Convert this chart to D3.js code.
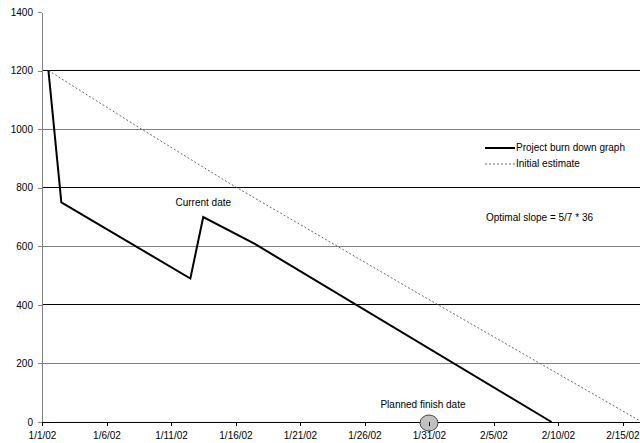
<!DOCTYPE html>
<html>
<head>
<meta charset="utf-8">
<script src="https://cdn.jsdelivr.net/npm/d3@7/dist/d3.min.js"></script>
<style>
  html, body { margin: 0; padding: 0; background: #fff; }
  svg { display: block; font-family: "Liberation Sans", Arial, sans-serif; }
</style>
</head>
<body>
<svg id="chart" width="640" height="443"></svg>
<script>
// ---- data ----
const burnDates = ["2002-01-01", "2002-01-02", "2002-01-12", "2002-01-13", "2002-01-17", "2002-02-09"];
const burnValues = [1200, 750, 490, 700, 608, 0];
const estimateDates = ["2002-01-01", "2002-01-08", "2002-01-15", "2002-01-29", "2002-02-16"];
const estimateValues = [1200, 1006, 816, 456, 0];
const xTickDates = ["2002-01-01", "2002-01-06", "2002-01-11", "2002-01-16", "2002-01-21", "2002-01-26", "2002-01-31", "2002-02-05", "2002-02-10", "2002-02-15"];
const xTickLabels = ["1/1/02", "1/6/02", "1/11/02", "1/16/02", "1/21/02", "1/26/02", "1/31/02", "2/5/02", "2/10/02", "2/15/02"];
const yTicks = [0, 200, 400, 600, 800, 1000, 1200, 1400];
const seriesNames = ["Project burn down graph", "Initial estimate"];
const currentDate = "2002-01-13";
const currentDateValue = 700;
const plannedFinishDate = "2002-01-31";
const slopeNote = "Optimal slope = 5/7 * 36";

(function () {
// ---- layout ----
const svg = d3.select("#chart");
const mLeft = 42, mRight = 640, mTop = 12, mBottom = 422;
const dayW = 12.9;
const parse = d3.utcParse("%Y-%m-%d");
const x = d3.scaleUtc()
  .domain([parse("2002-01-01"), parse("2002-02-15")])
  .range([mLeft, mLeft + 45 * dayW]);
const y = d3.scaleLinear().domain([0, 1400]).range([mBottom, mTop]);
const mid = d => x(d3.utcHour.offset(parse(d), 12));

// gridlines
const gridColor = v => (v / 200) % 2 === 0 ? "#000" : "#808080";
svg.append("g").selectAll("line")
  .data(yTicks.filter(v => v > 0 && v < 1400))
  .join("line")
  .attr("x1", mLeft).attr("x2", mRight)
  .attr("y1", d => y(d)).attr("y2", d => y(d))
  .attr("stroke", d => gridColor(d))
  .attr("stroke-width", 1)
  .attr("shape-rendering", "crispEdges");

// y axis
const yAxis = svg.append("g")
  .attr("transform", `translate(${mLeft},0)`)
  .call(d3.axisLeft(y).tickValues(yTicks).tickFormat(d3.format("d"))
    .tickSize(4).tickSizeOuter(0).tickPadding(5));
yAxis.select(".domain").attr("stroke", "#808080").attr("shape-rendering", "crispEdges");
yAxis.selectAll(".tick line").attr("stroke", "#808080").attr("shape-rendering", "crispEdges");
yAxis.selectAll("text").attr("font-size", 10).attr("fill", "#000")
  .attr("font-family", "Liberation Sans, Arial, sans-serif");

// x axis line
svg.append("line")
  .attr("x1", mLeft).attr("x2", mRight)
  .attr("y1", y(0)).attr("y2", y(0))
  .attr("stroke", "#000").attr("shape-rendering", "crispEdges");

// lines
svg.append("defs").append("clipPath").attr("id", "plot")
  .append("rect").attr("x", mLeft).attr("y", 0).attr("width", mRight - mLeft).attr("height", mBottom + 1);

const line = d3.line().x(d => mid(d[0])).y(d => y(d[1]));
svg.append("path")
  .attr("clip-path", "url(#plot)")
  .attr("d", line(estimateDates.map((d, i) => [d, estimateValues[i]])))
  .attr("fill", "none").attr("stroke", "#666").attr("stroke-width", 1)
  .attr("stroke-dasharray", "2,2");
svg.append("path")
  .attr("d", line(burnDates.map((d, i) => [d, burnValues[i]])))
  .attr("fill", "none").attr("stroke", "#000").attr("stroke-width", 2)
  .attr("stroke-linejoin", "miter");

// planned finish marker
const pfx = x(parse(plannedFinishDate));
svg.append("ellipse").attr("cx", pfx).attr("cy", y(0) + 1).attr("rx", 9).attr("ry", 8)
  .attr("fill", "#c0c0c0").attr("stroke", "#444").attr("stroke-width", 1);

// x axis ticks and labels (on top)
const xAxis = svg.append("g")
  .attr("transform", `translate(0,${mBottom})`)
  .call(d3.axisBottom(x).tickValues(xTickDates.map(parse))
    .tickFormat((d, i) => xTickLabels[i]).tickSize(4).tickSizeOuter(0).tickPadding(6));
xAxis.select(".domain").remove();
xAxis.selectAll(".tick line").attr("stroke", "#000").attr("shape-rendering", "crispEdges");
xAxis.selectAll("text").attr("font-size", 10).attr("fill", "#000")
  .attr("font-family", "Liberation Sans, Arial, sans-serif");

// annotations
const txt = (s, xx, yy, anchor) => svg.append("text")
  .attr("x", xx).attr("y", yy).attr("text-anchor", anchor || "start")
  .attr("dominant-baseline", "middle")
  .attr("font-size", 10).attr("fill", "#000").text(s);
txt("Current date", mid(currentDate), y(currentDateValue) - 14, "middle");
txt("Planned finish date", pfx - 6, y(0) - 17, "middle");
txt(slopeNote, 486, 218);

// legend
const lg = svg.append("g");
lg.append("line").attr("x1", 485).attr("x2", 515).attr("y1", 148).attr("y2", 148)
  .attr("stroke", "#000").attr("stroke-width", 2);
lg.append("line").attr("x1", 485).attr("x2", 515).attr("y1", 164).attr("y2", 164)
  .attr("stroke", "#666").attr("stroke-width", 1).attr("stroke-dasharray", "2,2");
txt(seriesNames[0], 516, 148);
txt(seriesNames[1], 516, 164);
})();
</script>
</body>
</html>
